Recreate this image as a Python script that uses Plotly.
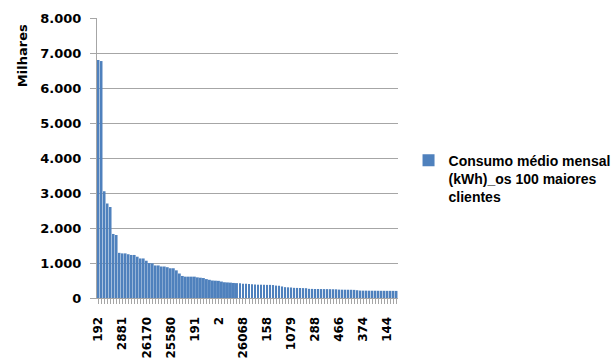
import plotly.graph_objects as go

# Average monthly consumption of the 100 largest customers, in thousands of kWh,
# sorted from largest to smallest.
consumo_milhares = [
    6800, 6770, 3050, 2700, 2600, 1830, 1800, 1290, 1275, 1275,
    1250, 1230, 1230, 1180, 1130, 1130, 1065, 1000, 990, 930,
    930, 900, 900, 880, 850, 850, 790, 700, 630, 610,
    610, 610, 610, 590, 580, 570, 540, 520, 500, 495,
    490, 470, 450, 445, 440, 430, 425, 420, 410, 405,
    400, 395, 385, 380, 380, 378, 375, 375, 370, 355,
    350, 330, 310, 305, 300, 290, 288, 285, 283, 280,
    262, 260, 258, 257, 256, 255, 254, 252, 250, 248,
    240, 238, 237, 236, 235, 232, 222, 212, 210, 210,
    209, 208, 208, 207, 206, 206, 205, 205, 204, 203,
]

# Customer codes printed under every 8th bar
codigos_rotulados = ["192", "2881", "26170", "25580", "191", "2", "26068",
                     "158", "1079", "288", "466", "374", "144"]
passo_rotulo = 8

posicoes = list(range(len(consumo_milhares)))
textos_eixo = [""] * len(posicoes)
for i, cod in enumerate(codigos_rotulados):
    textos_eixo[i * passo_rotulo] = cod

fig = go.Figure(
    go.Bar(
        x=posicoes,
        y=consumo_milhares,
        name="Consumo médio mensal<br>(kWh)_os 100 maiores<br>clientes",
        marker=dict(color="#4F81BD", line=dict(width=0)),
        showlegend=True,
    )
)

fig.update_layout(
    width=616,
    height=360,
    margin=dict(l=97, r=218, t=18, b=62, autoexpand=False),
    paper_bgcolor="white",
    plot_bgcolor="white",
    bargap=0.35,
    separators=",.",
    font=dict(family="DejaVu Sans", size=12, color="#000000"),
    legend=dict(
        x=1.035,
        y=0.548,
        xanchor="left",
        yanchor="top",
        valign="top",
        font=dict(family="Liberation Sans", size=14, color="#000000", weight="bold"),
        itemwidth=30,
        tracegroupgap=0,
    ),
    # Unit label sits at the top of the value axis
    annotations=[
        dict(
            text="Milhares",
            xref="paper", yref="paper",
            x=-0.249, y=0.864,
            xanchor="center", yanchor="middle",
            textangle=-90,
            showarrow=False,
            font=dict(family="DejaVu Sans", size=13, weight="bold", color="#000000"),
        )
    ],
)

fig.update_xaxes(
    range=[-0.5, len(posicoes) - 0.5],
    tickmode="array",
    tickvals=posicoes,
    ticktext=textos_eixo,
    tickangle=-90,
    ticks="outside",
    ticklen=5,
    tickwidth=1,
    tickcolor="#a6a6a6",
    showline=True,
    linecolor="#a6a6a6",
    linewidth=1,
    showgrid=False,
    automargin=False,
    ticklabelstandoff=8,
    tickfont=dict(family="DejaVu Sans", size=12, weight="bold"),
)

fig.update_yaxes(
    range=[0, 8000],
    dtick=1000,
    tickformat=",d",
    ticks="outside",
    ticklen=6,
    tickwidth=1,
    tickcolor="#a6a6a6",
    showline=True,
    linecolor="#a6a6a6",
    linewidth=1,
    showgrid=True,
    gridcolor="#a6a6a6",
    gridwidth=1,
    zeroline=False,
    automargin=False,
    ticklabelstandoff=6,
    tickfont=dict(family="DejaVu Sans", size=13, weight="bold"),
)

fig.write_html("out.html")
